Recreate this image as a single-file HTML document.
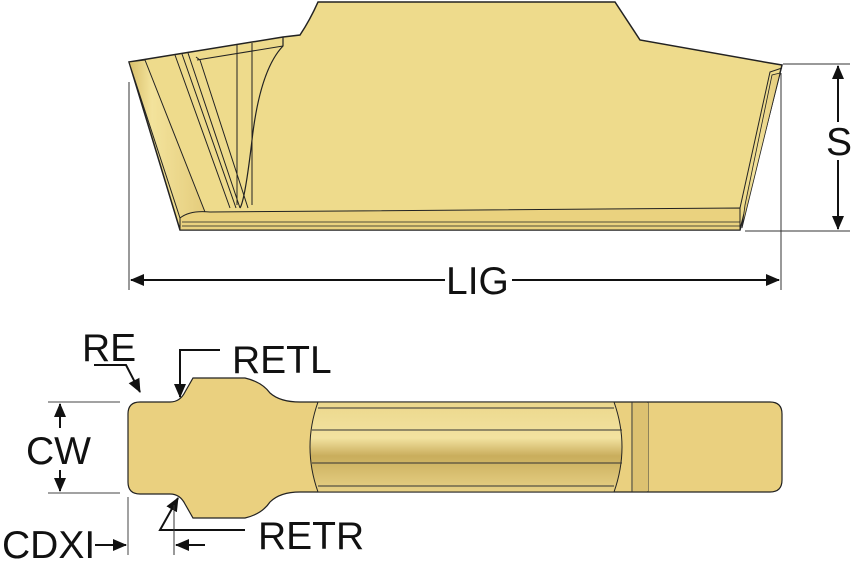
<!DOCTYPE html>
<html><head><style>body{margin:0;background:#fff}svg{display:block}text{font-family:"Liberation Sans",sans-serif;font-size:39px;fill:#111}</style></head><body>
<svg width="858" height="572" viewBox="0 0 858 572">
<defs>
<marker id="a" markerWidth="14" markerHeight="14" refX="13" refY="7" orient="auto" markerUnits="userSpaceOnUse"><path d="M0,1 L14,7 L0,13 z" fill="#111"/></marker>
<linearGradient id="g" x1="0" x2="1"><stop offset="0" stop-color="#d8bf6a"/><stop offset=".3" stop-color="#f3e39c"/><stop offset="1" stop-color="#e4cc7c"/></linearGradient>
<linearGradient id="gv" x1="0" y1="0" x2="0" y2="1"><stop offset="0" stop-color="#ecd88c"/><stop offset=".4" stop-color="#f2e2a0"/><stop offset=".6" stop-color="#c9ad5c"/><stop offset="1" stop-color="#e8d186"/></linearGradient>
</defs>
<path d="M129,62 L283,37 L300,35 Q310,20 318,2 L615,2 L640,40 L770,63 L782,65 L780,73 L740,230 L180,230 Z" fill="#eedb8c" stroke="#222" stroke-width="1.5"/>
<path d="M129,62 L145,60 L205,212 L180,218 Z" fill="url(#g)" stroke="#222" stroke-width="1"/>
<path d="M175,55 L230,208 M182,54 L236,208 M188,53 L240,208 M196,57 L200,60 L248,208" stroke="#222" fill="none" stroke-width="1"/>
<path d="M197,60 L283,46 M237,45 L237,205 M252,43 L252,205" stroke="#222" fill="none" stroke-width="1"/>
<path d="M283,37 L283,46 Q260,70 252,140 Q245,200 240,208" stroke="#222" fill="none" stroke-width="1.2"/>
<path d="M180,218 Q190,210 210,212 L740,208 L740,230 L180,230 Z" fill="#ead27f" stroke="#222" stroke-width="1"/>
<path d="M182,222 L740,222 M182,226 L740,226" stroke="#222" stroke-width="0.8"/>
<path d="M740,208 L770,72 L782,68" stroke="#222" fill="none" stroke-width="1"/>
<path d="M745,205 L772,75 L780,73 L742,228 Z" fill="url(#g)" stroke="#222" stroke-width=".8"/>
<path d="M129,82 V290 M781,73 V290 M783,64 H850 M745,231 H850" stroke="#333" stroke-width="1"/>
<path d="M838,80 V66" stroke="#111" stroke-width="2" marker-end="url(#a)"/>
<path d="M838,200 V229" stroke="#111" stroke-width="2" marker-end="url(#a)"/>
<path d="M838,80 V122 M838,160 V200" stroke="#111" stroke-width="2"/>
<text x="826" y="155">S</text>
<path d="M445,280 H131" stroke="#111" stroke-width="2" marker-end="url(#a)"/>
<path d="M512,280 H779" stroke="#111" stroke-width="2" marker-end="url(#a)"/>
<text x="446" y="294">LIG</text>
<path d="M140,402 L170,402 Q180,402 185,392 L193,378 L245,378 Q262,382 270,393 Q280,402 300,402 L770,402 Q782,402 782,414 L782,480 Q782,492 770,492 L300,492 Q280,492 270,502 Q262,514 245,518 L193,518 L185,504 Q180,494 170,494 L140,494 Q128,494 128,482 L128,414 Q128,402 140,402 Z" fill="#ead07f" stroke="#222" stroke-width="1.2"/>
<path d="M318,402 Q302,447 318,492 L614,492 Q630,447 614,402 Z" fill="url(#gv)" stroke="#222" stroke-width="1"/>
<path d="M318,408 H614 M312,430 H622 M312,463 H622 M318,486 H614" stroke="#333" stroke-width="1"/>
<path d="M632,402 V492 M648,402 V492" stroke="#333" stroke-width="1"/>
<rect x="633" y="403" width="15" height="88" fill="#dcc171"/>
<path d="M48,402 H120 M48,493 H120 M128,497 V555" stroke="#444" stroke-width="1"/>
<path d="M60,428 V404" stroke="#111" stroke-width="2" marker-end="url(#a)"/>
<path d="M60,470 V491" stroke="#111" stroke-width="2" marker-end="url(#a)"/>
<text x="26" y="464">CW</text>
<text x="82" y="361">RE</text>
<path d="M94,365 H126 L140,392" stroke="#111" stroke-width="2" fill="none" marker-end="url(#a)"/>
<text x="232" y="373">RETL</text>
<path d="M220,350 H180 V397" stroke="#111" stroke-width="2" fill="none" marker-end="url(#a)"/>
<text x="2" y="558">CDXI</text>
<path d="M95,545 H126" stroke="#111" stroke-width="2" marker-end="url(#a)"/>
<text x="258" y="549">RETR</text>
<path d="M245,530 H160 L178,498" stroke="#111" stroke-width="2" fill="none" marker-end="url(#a)"/>
<path d="M174,505 V555" stroke="#333" stroke-width="1"/>
<path d="M205,545 H176" stroke="#111" stroke-width="2" marker-end="url(#a)"/>
</svg>
</body></html>
